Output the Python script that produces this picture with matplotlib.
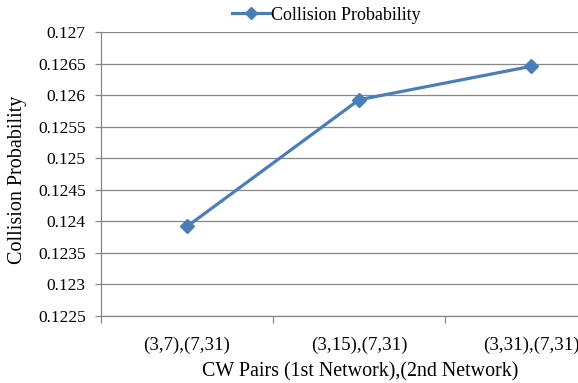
import numpy as np
import matplotlib.pyplot as plt
from matplotlib.ticker import FixedLocator

plt.rcParams['font.family'] = ['Liberation Serif', 'DejaVu Serif']

# data
categories = ['(3,7),(7,31)', '(3,15),(7,31)', '(3,31),(7,31)']
collision_prob = [0.12392, 0.12593, 0.12646]
y_ticks = [0.1225, 0.123, 0.1235, 0.124, 0.1245, 0.125, 0.1255, 0.126, 0.1265, 0.127]
y_tick_labels = ['0.1225', '0.123', '0.1235', '0.124', '0.1245', '0.125',
                 '0.1255', '0.126', '0.1265', '0.127']

W, H = 578, 383
fig = plt.figure(figsize=(W / 100, H / 100), dpi=100)

# plot area runs past the right edge, as in the reference (cropped)
left, right, top, bottom = 101, 617, 32.3, 316
ax = fig.add_axes([left / W, (H - bottom) / H, (right - left) / W, (bottom - top) / H])

blue = '#4A7EBB'
grey = '#878787'
x = np.arange(len(categories))
ax.plot(x, collision_prob, color=blue, lw=2.3, marker='D', markersize=7.5,
        markerfacecolor=blue, markeredgecolor=blue, label='Collision Probability',
        clip_on=False, zorder=3)

ax.set_xlim(-0.5, len(categories) - 0.5)
ax.set_ylim(y_ticks[0], y_ticks[-1])
ax.set_yticks(y_ticks)
ax.set_yticklabels(y_tick_labels)
ax.set_xticks(x)
ax.set_xticklabels(categories)
ax.xaxis.set_minor_locator(FixedLocator(np.arange(-0.5, len(categories), 1.0)))

ax.grid(axis='y', color=grey, lw=0.9)
ax.set_axisbelow(True)
for s in ['top', 'right']:
    ax.spines[s].set_visible(False)
for s in ['left', 'bottom']:
    ax.spines[s].set_color(grey)
    ax.spines[s].set_linewidth(0.9)

ax.tick_params(axis='y', which='major', length=4.5, width=0.9, color=grey,
               labelsize=12.5, pad=6.5)
ax.tick_params(axis='x', which='major', length=0, labelsize=13.6, pad=15)
ax.tick_params(axis='x', which='minor', length=5, width=0.9, color=grey)

fig.text(18 / W, 1 - 180 / H, 'Collision Probability', rotation=90,
         ha='center', va='center', fontsize=14.5)
fig.text(360 / W, 1 - 372 / H, 'CW Pairs (1st Network),(2nd Network)',
         ha='center', va='center', fontsize=14.4)

fig.legend(loc='center', bbox_to_anchor=(326 / W, 1 - 15 / H), frameon=False,
           fontsize=13, handlelength=2.1, handletextpad=0.05, borderpad=0,
           markerscale=0.85)

fig.savefig('out.png', dpi=100)
